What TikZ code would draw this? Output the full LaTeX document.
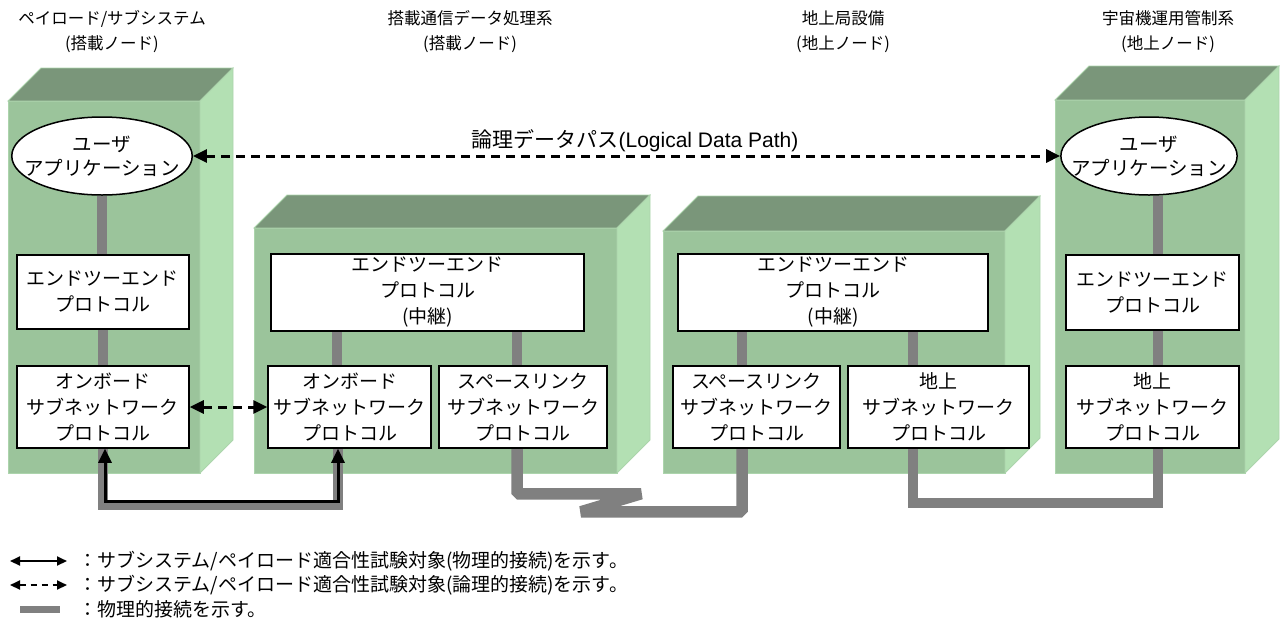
\documentclass[tikz,border=0pt]{standalone}
\usepackage{fontspec}
\setmainfont{Noto Sans CJK JP}
\newfontfamily\latinfont{Liberation Sans}
\usetikzlibrary{shapes.geometric, arrows.meta, backgrounds}
\definecolor{frontgreen}{RGB}{155,196,155}
\definecolor{topgreen}{RGB}{122,150,122}
\definecolor{sidegreen}{RGB}{179,224,179}
\definecolor{edgegreen}{RGB}{172,212,172}
\definecolor{physgray}{RGB}{128,128,128}
\tikzstyle{front} = [fill=frontgreen, draw=edgegreen, line width=0.8pt]
\tikzstyle{top} = [fill=topgreen, draw=edgegreen, line width=0.8pt]
\tikzstyle{side} = [fill=sidegreen, draw=edgegreen, line width=0.8pt]
\tikzstyle{title} = [align=center, font=\fontsize{16.5}{25}\selectfont]
\tikzstyle{layer} = [rectangle, draw=black, fill=white, line width=1.5pt, align=center, inner sep=0pt, font=\fontsize{19}{26}\selectfont]
\tikzstyle{app} = [ellipse, draw=black, fill=white, line width=1.5pt, align=center, inner xsep=-14pt, inner ysep=0pt, minimum height=78pt, font=\fontsize{19.5}{24}\selectfont]
\tikzstyle{phys} = [draw=physgray, line width=10pt]
\tikzstyle{arrow} = [line width=3pt, {Triangle[length=14pt,width=13pt]}-{Triangle[length=14pt,width=13pt]}]
\tikzstyle{logic} = [arrow, dash pattern=on 9pt off 6pt]
\tikzstyle{legarrow} = [line width=2pt, {Triangle[length=10pt,width=9pt]}-{Triangle[length=10pt,width=9pt]}]
\tikzstyle{legend} = [anchor=west, inner sep=0pt, font=\fontsize{19}{25}\selectfont]

\begin{document}
\begin{tikzpicture}[x=1pt, y=-1pt]
				\useasboundingbox (0,0) rectangle (1286,625);
				
				\node(t1) [title] at (112,32) {ペイロード/サブシステム\\(搭載ノード)};
				\node(t2) [title] at (470,32) {搭載通信データ処理系\\(搭載ノード)};
				\node(t3) [title] at (843,32) {地上局設備\\(地上ノード)};
				\node(t4) [title] at (1168,32) {宇宙機運用管制系\\(地上ノード)};
				
				\node(app1) [app] at (102,156) {ユーザ\\アプリケーション};
				\node(e2e1) [layer, minimum width=172pt, minimum height=74pt] at (103,292) {エンドツーエンド\\プロトコル};
				\node(osn1) [layer, minimum width=172pt, minimum height=82pt] at (103,407) {オンボード\\サブネットワーク\\プロトコル};
				
				\node(e2e2) [layer, minimum width=313pt, minimum height=77pt] at (427.5,292.5) {エンドツーエンド\\プロトコル\\(中継)};
				\node(osn2) [layer, minimum width=163pt, minimum height=82pt] at (349.5,407) {オンボード\\サブネットワーク\\プロトコル};
				\node(ssn2) [layer, minimum width=168pt, minimum height=82pt] at (523,407) {スペースリンク\\サブネットワーク\\プロトコル};
				
				\node(e2e3) [layer, minimum width=310pt, minimum height=77pt] at (833,292.5) {エンドツーエンド\\プロトコル\\(中継)};
				\node(ssn3) [layer, minimum width=167pt, minimum height=82pt] at (756.5,407) {スペースリンク\\サブネットワーク\\プロトコル};
				\node(gsn3) [layer, minimum width=181pt, minimum height=82pt] at (938.5,407) {地上\\サブネットワーク\\プロトコル};
				
				\node(app4) [app, inner xsep=-15.5pt] at (1149,156) {ユーザ\\アプリケーション};
				\node(e2e4) [layer, minimum width=173pt, minimum height=75pt] at (1152.5,292.5) {エンドツーエンド\\プロトコル};
				\node(gsn4) [layer, minimum width=173pt, minimum height=82pt] at (1152.5,407) {地上\\サブネットワーク\\プロトコル};
				
				\node(path) [font=\fontsize{21}{25}\selectfont] at (635,141) {論理データパス{\latinfont(Logical Data Path)}};
				
				\begin{scope}[on background layer]
				% node boxes
				\filldraw[front] (8,101) rectangle (200,473);
				\filldraw[top] (8,101) -- (41,68) -- (233,68) -- (200,101) -- cycle;
				\filldraw[side] (200,101) -- (233,68) -- (233,440) -- (200,473) -- cycle;
				\filldraw[front] (254,228) rectangle (617,473);
				\filldraw[top] (254,228) -- (287,195) -- (650,195) -- (617,228) -- cycle;
				\filldraw[side] (617,228) -- (650,195) -- (650,440) -- (617,473) -- cycle;
				\filldraw[front] (663,231) rectangle (1005,473);
				\filldraw[top] (663,231) -- (698,196) -- (1040,196) -- (1005,231) -- cycle;
				\filldraw[side] (1005,231) -- (1040,196) -- (1040,438) -- (1005,473) -- cycle;
				\filldraw[front] (1055,100) rectangle (1245,473);
				\filldraw[top] (1055,100) -- (1089,66) -- (1279,66) -- (1245,100) -- cycle;
				\filldraw[side] (1245,100) -- (1279,66) -- (1279,439) -- (1245,473) -- cycle;
				
				% physical connections
				\draw[phys] (app1.south) -- (app1.south |- e2e1.north);
				\draw[phys] (e2e1.south) -- (osn1.north);
				\draw[phys] ([xshift=-12.5pt]osn2.north) -- ([xshift=-12.5pt]osn2.north |- e2e2.south);
				\draw[phys] ([xshift=-6pt]ssn2.north) -- ([xshift=-6pt]ssn2.north |- e2e2.south);
				\draw[phys] ([xshift=-14.5pt]ssn3.north) -- ([xshift=-14.5pt]ssn3.north |- e2e3.south);
				\draw[phys] ([xshift=-25.5pt]gsn3.north) -- ([xshift=-25.5pt]gsn3.north |- e2e3.south);
				\draw[phys] ([xshift=5.5pt]e2e4.north) -- ([xshift=5.5pt]e2e4.north |- app4.south);
				\draw[phys] ([xshift=5.5pt]e2e4.south) -- ([xshift=5.5pt]gsn4.north);
				\draw[phys] (osn1.south) -- ++(0,56) -| ([xshift=-12pt]osn2.south);
				\draw[phys, line width=11.5pt, line join=bevel] ([xshift=-6pt]ssn2.south) -- ++(0,45) -- ++(124,0) -- ++(-60,18) -| ([xshift=-14.5pt]ssn3.south);
				\draw[phys] ([xshift=-25.5pt]gsn3.south) -- ++(0,54) -| ([xshift=5.5pt]gsn4.south);
				\end{scope}
				
				\draw[arrow] ([xshift=2pt]osn1.south) -- ++(0,53) -| ([xshift=-11.5pt]osn2.south);
				\draw[logic] (osn1.east) -- (osn2.west);
				\draw[logic] (app1.east) -- (app4.west);
				
				% legend
				\coordinate(l1a) at (10,561);
				\coordinate(l1b) at (67,561);
				\coordinate(l2a) at (10,585);
				\coordinate(l2b) at (67,585);
				\coordinate(l3a) at (20,609);
				\coordinate(l3b) at (60,609);
				\draw[legarrow] (l1a) -- (l1b);
				\draw[legarrow, dash pattern=on 6pt off 5pt] (l2a) -- (l2b);
				\draw[draw=physgray, line width=7pt] (l3a) -- (l3b);
				\node(leg1) [legend] at (78,561) {：サブシステム/ペイロード適合性試験対象(物理的接続)を示す。};
				\node(leg2) [legend] at (78,585) {：サブシステム/ペイロード適合性試験対象(論理的接続)を示す。};
				\node(leg3) [legend] at (78,609) {：物理的接続を示す。};
			\end{tikzpicture}
\end{document}
